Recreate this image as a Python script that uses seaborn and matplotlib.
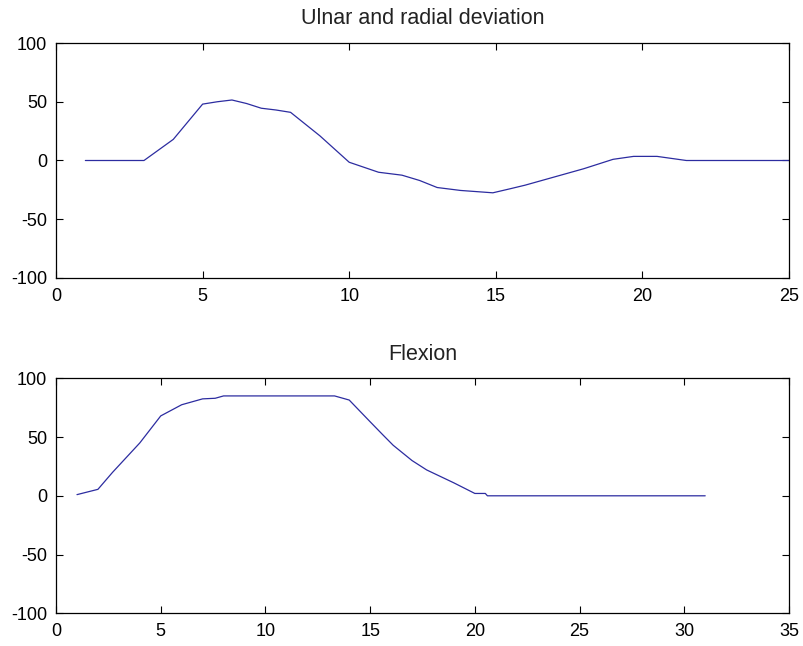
import matplotlib
matplotlib.use("Agg")
import matplotlib.pyplot as plt
import pandas as pd
import seaborn as sns

# Ulnar / radial deviation angle (degrees) over time
ulnar_x = [1, 3, 4, 5, 5.5, 6, 6.5, 7, 7.5, 8, 9, 10, 11, 11.8, 12.4, 13, 13.8, 14.9, 15.5,
           16, 17, 18, 19, 19.7, 20.5, 21.5, 25]
ulnar_deg = [0, 0, 18, 48, 50, 51.5, 48.5, 44.5, 43, 41, 21, -1.5, -10, -12.5, -17, -23, -25.5, -27.5, -24,
             -21, -14, -7, 1, 3.5, 3.5, 0, 0]

# Flexion angle (degrees) over time
flex_x = [1, 2, 2.7, 4, 5, 6, 7, 7.6, 8, 13.3, 14, 15, 15.6, 16.1, 17, 17.7, 19, 20, 20.5, 20.6, 31]
flex_deg = [1, 5.5, 20, 45, 68, 77.5, 82.5, 83, 85, 85, 81.5, 63, 52, 43, 30, 22, 11, 2, 2, 0, 0]

panels = [
    ("Ulnar and radial deviation", ulnar_x, ulnar_deg, 25),
    ("Flexion", flex_x, flex_deg, 35),
]

sns.set_style("ticks")
plt.rcParams["font.family"] = ["Liberation Sans", "DejaVu Sans"]
plt.rcParams["axes.unicode_minus"] = False

fig = plt.figure(figsize=(8.04, 6.46), dpi=100, facecolor="white")
boxes = [
    [0.0697, 0.5697, 0.9116, 0.3637],
    [0.0697, 0.0506, 0.9116, 0.3638],
]

for (title, xs, ys, xmax), box in zip(panels, boxes):
    ax = fig.add_axes(box)
    df = pd.DataFrame({"t": xs, "angle": ys})
    sns.lineplot(data=df, x="t", y="angle", ax=ax, color="#2c2ca0",
                 linewidth=0.9, sort=False, estimator=None)
    ax.set_xlim(0, xmax)
    ax.set_ylim(-100, 100)
    ax.set_xticks(range(0, xmax + 1, 5))
    ax.set_yticks([-100, -50, 0, 50, 100])
    ax.set_xlabel("")
    ax.set_ylabel("")
    ax.set_title(title, fontsize=15.5, pad=13.5, color="#222222")
    ax.tick_params(direction="in", top=True, right=True, length=5, width=0.8,
                   labelsize=13, colors="black")
    ax.tick_params(axis="x", pad=7)
    ax.tick_params(axis="y", pad=6.5)
    for s in ax.spines.values():
        s.set_visible(True)
        s.set_linewidth(0.9)
        s.set_color("black")
    ax.grid(False)

fig.savefig("out.png", dpi=100, facecolor="white")
